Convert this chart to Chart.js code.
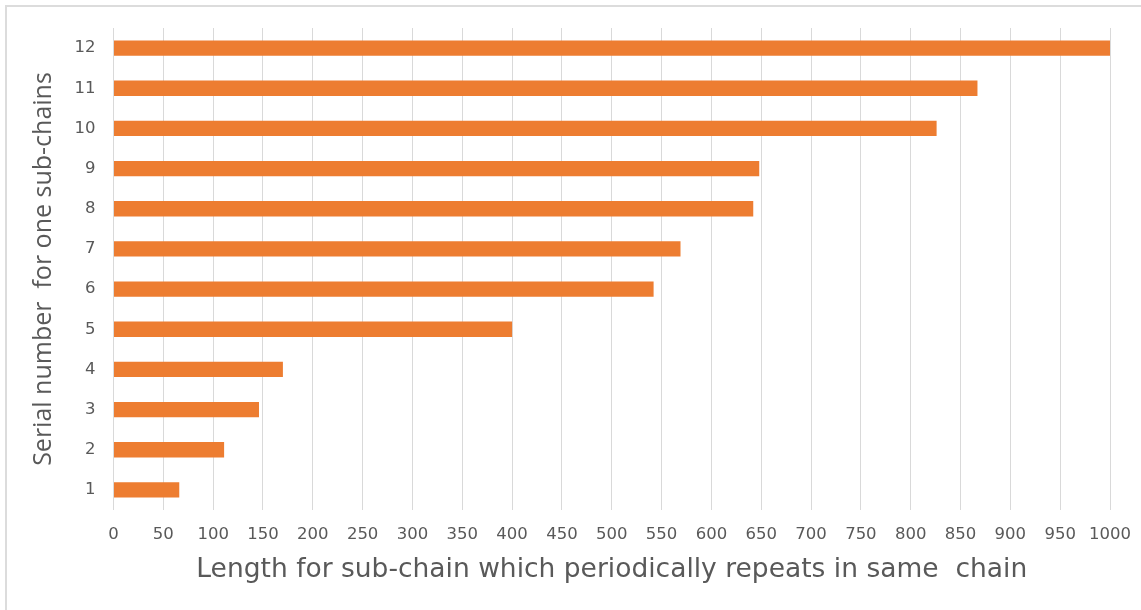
<!DOCTYPE html>
<html>
<head>
<meta charset="utf-8">
<script src="https://cdn.jsdelivr.net/npm/chart.js@4/dist/chart.umd.min.js"></script>
<style>
  html, body { margin: 0; padding: 0; background: #ffffff; }
  #wrap { position: relative; width: 1141px; height: 610px; overflow: hidden; }
  #frame { position: absolute; left: 5px; top: 5px; width: 1200px; height: 700px;
           border-top: 2px solid #dcdcdc; border-left: 2px solid #dcdcdc; box-sizing: border-box; }
  canvas { position: absolute; left: 0; top: 0; }
</style>
</head>
<body>
<div id="wrap">
  <div id="frame"></div>
  <canvas id="c" width="1141" height="610"></canvas>
</div>
<script>
const categories = ['1','2','3','4','5','6','7','8','9','10','11','12'];
const lengths = [66, 111, 146, 170, 400, 542, 569, 642, 648, 826, 867, 1002];
const xTitle = 'Length for sub-chain which periodically repeats in same  chain';
const yTitle = 'Serial number  for one sub-chains';
const xMin = 0, xMax = 1000, xStep = 50;

const tickColor = '#595959';
const titleColor = '#595959';
const barColor = '#ED7D31';

new Chart(document.getElementById('c'), {
  type: 'bar',
  data: {
    labels: categories,
    datasets: [{
      data: lengths,
      backgroundColor: barColor,
      borderWidth: 0,
      categoryPercentage: 1.0,
      barPercentage: 0.38
    }]
  },
  options: {
    indexAxis: 'y',
    responsive: false,
    animation: false,
    devicePixelRatio: 1,
    layout: { padding: { left: 0, right: 31, top: 28, bottom: 0 } },
    plugins: { legend: { display: false }, tooltip: { enabled: false } },
    scales: {
      x: {
        min: xMin, max: xMax,
        ticks: { stepSize: xStep, color: tickColor, padding: 15,
                 font: { family: 'DejaVu Sans', size: 16.5 }, maxRotation: 0, autoSkip: false,
                 callback: (v) => String(v) },
        grid: { color: '#d9d9d9', lineWidth: 1, drawTicks: false },
        border: { display: false },
        title: { display: true, text: xTitle, color: titleColor,
                 font: { family: 'DejaVu Sans', size: 26.5 }, padding: { top: 0, bottom: 24 } },
        afterFit: (s) => { s.height = 100; s.paddingLeft = 0; s.paddingRight = 0; }
      },
      y: {
        reverse: true,
        ticks: { color: tickColor, padding: 18, font: { family: 'DejaVu Sans', size: 16.5 } },
        grid: { display: false, drawTicks: false },
        border: { display: false },
        title: { display: true, text: yTitle, color: titleColor,
                 font: { family: 'Open Sans', size: 25 }, padding: { top: 29, bottom: 0 } },
        afterFit: (s) => { s.width = 113.5; s.paddingTop = 0; s.paddingBottom = 0; }
      }
    }
  }
});
</script>
</body>
</html>
